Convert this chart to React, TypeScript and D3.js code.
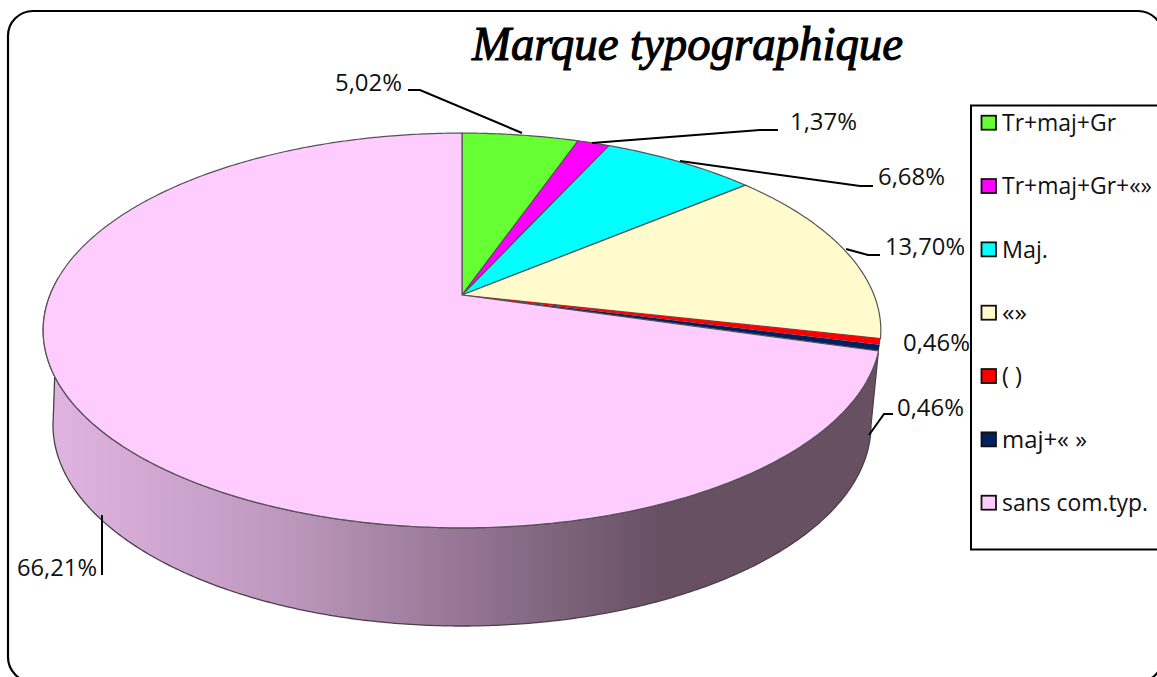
import React from "react";
import * as d3 from "d3";

const categories = ["Tr+maj+Gr", "Tr+maj+Gr+«»", "Maj.", "«»", "( )", "maj+« »", "sans com.typ."];
const values = [5.02, 1.37, 6.68, 13.7, 0.46, 0.46, 66.21];
const labels = ["5,02%", "1,37%", "6,68%", "13,70%", "0,46%", "0,46%", "66,21%"];
const colors = ["#66FF33", "#FF00FF", "#00FFFF", "#FFFBCC", "#FF0000", "#002060", "#FFCCFF"];

// label text anchors (left x, centre y)
const labelX = [335, 790, 878, 885, 903, 897, 17];
const labelY = [83, 122, 177, 247, 343, 408, 568];
const legendWidths = [114, 150, 46, 25, 20, 85, 146];
// leader lines
const leaderPaths: [number, number][][] = [
  [[408, 90], [420, 90], [522, 133]],
  [[778, 130], [760, 130], [592, 143]],
  [[873, 186], [860, 186], [680, 161]],
  [[880, 255], [868, 255], [846, 249]],
  [],
  [[893, 414], [884, 414], [869, 435]],
  [[102, 575], [102, 515]],
];

const W = 1157, H = 677;
const cx = 462, cy = 295;
const k = 71 / 395;
const a = 191, b = 412;
const proj = (t: number): [number, number] => {
  const u = Math.sin(t), v = Math.cos(t), d = 1 + k * v;
  return [cx + (b * u) / d, cy - (a * v) / d];
};
const low = { cx: 462, cy: 425, rx: 409, ry: 201 };
const lowPt = (t: number): [number, number] => [low.cx + low.rx * Math.cos(t), low.cy + low.ry * Math.sin(t)];

const arcs = d3.pie<number>().sort(null).startAngle(0).endAngle(2 * Math.PI)(values);
const line = d3.line();
const sample = (t0: number, t1: number, f: (t: number) => [number, number]) => {
  const n = Math.max(2, Math.ceil(Math.abs(t1 - t0) / 0.01));
  return d3.range(n + 1).map((i) => f(t0 + ((t1 - t0) * i) / n));
};

const pink = arcs[6];
const leftT = Math.PI * 1.5 + 0.09;
const sidePts: [number, number][] = [
  ...sample(pink.startAngle + 0.005, leftT, proj),
  ...sample(Math.PI, 0, lowPt),
];

const legendY = d3.scalePoint<string>().domain(categories).range([122.7, 502.7]);

export default function App() {
  return (
    <svg width={W} height={H} style={{ position: "absolute", left: 0, top: 0, display: "block" }}>
      <defs>
        <linearGradient id="side" gradientUnits="userSpaceOnUse" x1={43} x2={880} y1={0} y2={0}>
          <stop offset="0" stopColor="#E2B5E2" />
          <stop offset="0.3" stopColor="#BC96BC" />
          <stop offset="0.55" stopColor="#8C6E8A" />
          <stop offset="0.74" stopColor="#665062" />
          <stop offset="1" stopColor="#665062" />
        </linearGradient>
      </defs>
      <rect x={0} y={0} width={W} height={H} fill="#fff" />
      <rect x={8} y={11} width={1155} height={671} rx={25} ry={25} fill="#fff" stroke="#000" strokeWidth={2.2} />
      <text
        x={472}
        y={60}
        textLength={431}
        lengthAdjust="spacingAndGlyphs"
        fontFamily="Liberation Serif"
        fontStyle="italic"
        fontSize={48}
        stroke="#000"
        strokeWidth={1.1}
        fill="#000"
      >
        Marque typographique
      </text>
      <path d={line(sidePts)! + "Z"} fill="url(#side)" stroke="#4a4048" strokeWidth={1.3} />
      {arcs.map((s, i) => (
        <path
          key={i}
          d={line([[cx, cy], ...sample(s.startAngle, s.endAngle, proj)])! + "Z"}
          fill={colors[i]}
          stroke={i === 4 || i === 5 ? "none" : "#555"}
          strokeWidth={1.2}
        />
      ))}
      {leaderPaths.map((p, i) =>
        p.length ? <path key={i} d={line(p)!} fill="none" stroke="#000" strokeWidth={2} /> : null
      )}
      {labels.map((t, i) => (
        <text
          key={i}
          x={labelX[i]}
          y={labelY[i]}
          dy="0.35em"
          fontFamily="Open Sans"
          fontSize={24}
          textLength={t.length > 5 ? 80 : 67}
          lengthAdjust="spacingAndGlyphs"
          fill="#111"
        >
          {t}
        </text>
      ))}
      <rect x={971} y={105.5} width={200} height={444} fill="none" stroke="#000" strokeWidth={2} />
      {categories.map((c, i) => (
        <g key={c}>
          <rect x={981.5} y={legendY(c)! - 7} width={14.5} height={14} fill={colors[i]} stroke="#111" strokeWidth={1.8} />
          <text x={1002} y={legendY(c)!} dy="0.35em" fontFamily="Open Sans" fontSize={24} fill="#111"
            textLength={legendWidths[i]} lengthAdjust="spacingAndGlyphs">
            {c}
          </text>
        </g>
      ))}
    </svg>
  );
}
